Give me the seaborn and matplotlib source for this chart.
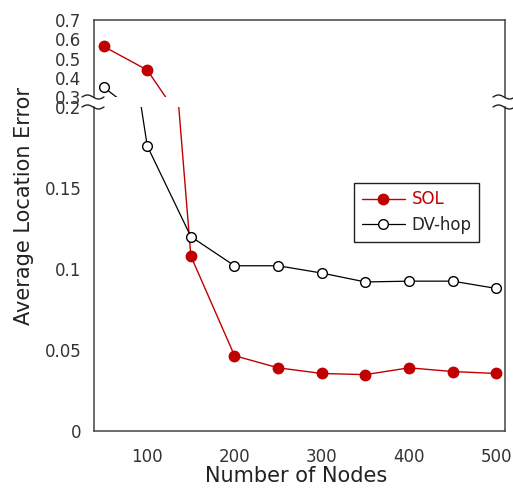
import matplotlib
matplotlib.use("Agg")
import matplotlib.pyplot as plt
import numpy as np
import pandas as pd
import seaborn as sns
from matplotlib.lines import Line2D

nodes = [50, 100, 150, 200, 250, 300, 350, 400, 450, 500]
sol = [0.563, 0.44, 0.108, 0.0465, 0.039, 0.0355, 0.0348, 0.039, 0.0367, 0.0355]
dvhop = [0.351, 0.176, 0.12, 0.102, 0.102, 0.0975, 0.092, 0.0925, 0.0925, 0.088]

low_ticks = [0, 0.05, 0.1, 0.15, 0.2]
low_labels = ["0", "0.05", "0.1", "0.15", "0.2"]
high_ticks = [0.3, 0.4, 0.5, 0.6, 0.7]
high_labels = ["0.3", "0.4", "0.5", "0.6", "0.7"]
x_ticks = [100, 200, 300, 400, 500]

df = pd.DataFrame({"nodes": nodes, "SOL": sol, "DV-hop": dvhop})

RED = "#c00000"
W, H = 513, 488

sns.set_style("white")
plt.rcParams["font.family"] = ["DejaVu Sans"]

fig = plt.figure(figsize=(W / 100, H / 100), dpi=100)


def fx(px):
    return px / W


def fy(py):
    return 1 - py / H


L, R = 94, 505
ax_hi = fig.add_axes([fx(L), fy(97), fx(R) - fx(L), fy(20) - fy(97)])
ax_lo = fig.add_axes([fx(L), fy(431), fx(R) - fx(L), fy(107) - fy(431)])

for ax in (ax_hi, ax_lo):
    sns.lineplot(data=df, x="nodes", y="SOL", ax=ax, color=RED, lw=1.0,
                 marker="o", markersize=7.5, markerfacecolor=RED,
                 markeredgecolor=RED, markeredgewidth=1)
    sns.lineplot(data=df, x="nodes", y="DV-hop", ax=ax, color="black", lw=0.9,
                 marker="o", markersize=7, markerfacecolor="white",
                 markeredgecolor="black", markeredgewidth=1)
    ax.set_xlim(39, 510)
    ax.set_xlabel("")
    ax.set_ylabel("")
    for s in ax.spines.values():
        s.set_color("#444444")
        s.set_linewidth(1.1)
    ax.tick_params(length=0, labelsize=12, colors="#333333", pad=9)

ax_hi.set_ylim(0.3, 0.7)
ax_hi.set_yticks(high_ticks)
ax_hi.set_yticklabels(high_labels)
ax_hi.set_xticks([])
ax_hi.spines["bottom"].set_visible(False)

ax_lo.set_ylim(0, 0.2)
ax_lo.set_yticks(low_ticks)
ax_lo.set_yticklabels(low_labels)
ax_lo.set_xticks(x_ticks)
ax_lo.tick_params(axis="x", pad=12)
ax_lo.spines["top"].set_visible(False)

# break squiggles
t = np.linspace(0, 1, 40)
for xc in (L, R):
    for yc in (97, 107):
        xs = xc - 12 + 22 * t
        ys = yc - 2 * np.sin(2 * np.pi * t)
        fig.add_artist(Line2D(fx(xs), fy(ys), color="#222222", lw=1.0,
                              transform=fig.transFigure))

handles = [
    Line2D([], [], color=RED, lw=1.0, marker="o", markersize=7.5,
           markerfacecolor=RED, markeredgecolor=RED),
    Line2D([], [], color="black", lw=0.9, marker="o", markersize=7,
           markerfacecolor="white", markeredgecolor="black"),
]
leg = ax_lo.legend(handles, ["SOL", "DV-hop"], loc="upper left",
                   bbox_to_anchor=(fx(354), fy(183)), bbox_transform=fig.transFigure,
                   fancybox=False, edgecolor="#222222", framealpha=1,
                   fontsize=12, handlelength=2.6, handletextpad=0.4,
                   borderpad=0.45, labelspacing=0.45, borderaxespad=0)
leg.get_frame().set_linewidth(1.0)
leg.get_texts()[0].set_color(RED)

fig.text(fx(24), fy(206), "Average Location Error", rotation=90,
         ha="center", va="center", fontsize=15, color="#222222")
fig.text(fx(296), fy(476), "Number of Nodes", ha="center", va="center",
         fontsize=15, color="#222222")

fig.savefig("out.png", dpi=100)
